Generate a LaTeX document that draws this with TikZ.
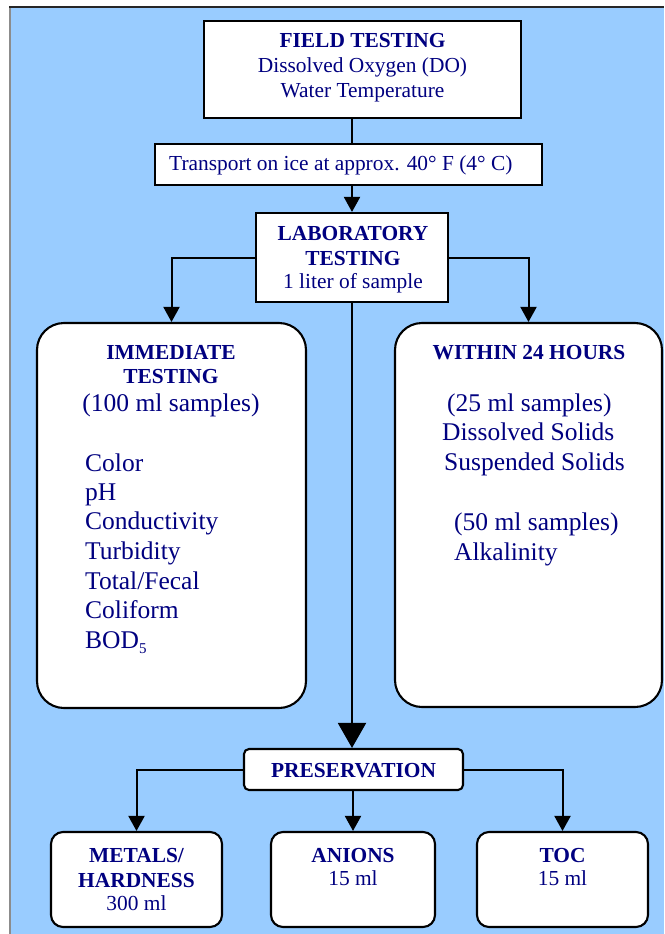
\documentclass[tikz,border=0pt]{standalone}
\usepackage{fontspec}
\setmainfont{Liberation Serif}
\usetikzlibrary{arrows.meta}
\definecolor{bgblue}{HTML}{99CCFF}
\definecolor{txtnavy}{HTML}{000080}
\begin{document}
\begin{tikzpicture}[x=1pt,y=-1pt,
  box/.style={draw=black, line width=2.1pt, fill=white, inner sep=0pt},
  conn/.style={line width=2pt, draw=black},
  arr/.style={conn, -{Triangle[length=15pt,width=16pt]}},
  bigarr/.style={conn, -{Triangle[length=25pt,width=28pt]}},
  txt/.style={text=txtnavy, font=\fontsize{21.4}{24}\selectfont, inner sep=0pt, anchor=base},
  btxt/.style={txt, font=\fontsize{21.4}{24}\selectfont\bfseries},
  ltxt/.style={txt, font=\fontsize{25.5}{30}\selectfont},
]
\useasboundingbox (0,0) rectangle (664,934);
% background panel
\fill[bgblue] (10,7) rectangle (664,934);
\draw[line width=1.5pt, black!45] (10,934) -- (10,7);
\draw[line width=1.5pt, black!85] (9.25,7) -- (664,7);

\coordinate (spine) at (352,0);

% boxes
\node[box, minimum width=317pt, minimum height=97pt] (field) at (362.5,69.5) {};
\node[box, minimum width=387pt, minimum height=41pt] (trans) at (348.5,164.5) {};
\node[box, minimum width=192pt, minimum height=89pt] (lab) at (352,257.5) {};
\node[box, rounded corners=27pt, minimum width=269pt, minimum height=385pt] (left) at (171.5,515.5) {};
\node[box, rounded corners=27pt, minimum width=267pt, minimum height=384pt] (right) at (528.5,515) {};
\node[box, rounded corners=5pt, minimum width=219pt, minimum height=41pt] (pres) at (353.5,769.5) {};
\node[box, rounded corners=12pt, minimum width=171pt, minimum height=95pt] (metals) at (136.5,879.5) {};
\node[box, rounded corners=12pt, minimum width=164pt, minimum height=95pt] (anions) at (353,879.5) {};
\node[box, rounded corners=12pt, minimum width=171pt, minimum height=95pt] (toc) at (562.5,879.5) {};

% connectors
\draw[conn] (spine |- field.south) -- (spine |- trans.north);
\draw[arr] (spine |- trans.south) -- (spine |- lab.north);
\draw[arr] (lab.west) -| (left.north);
\draw[arr] (lab.east) -| (right.north);
\draw[bigarr] (spine |- lab.south) -- (spine |- pres.north);
\draw[arr] (pres.west) -| (metals.north);
\draw[arr] (anions.north |- pres.south) -- (anions.north);
\draw[arr] (pres.east) -| (toc.north);

% field testing
\node[btxt] (f1) at (362.5,48) {FIELD TESTING};
\node[txt] (f2) at (362.5,72) {Dissolved Oxygen (DO)};
\node[txt] (f3) at (362.5,97) {Water Temperature};
% transport
\node[txt, anchor=base west] (t1) at (169,170) {Transport on ice at approx. 40° F (4° C)};
% laboratory
\node[btxt] (l1) at (353,240) {LABORATORY};
\node[btxt] (l2) at (353,265) {TESTING};
\node[txt] (l3) at (353,288) {1 liter of sample};
% immediate testing
\node[btxt] (i1) at (171,359) {IMMEDIATE};
\node[btxt] (i2) at (171,383) {TESTING};
\node[ltxt] (i3) at (171,411) {(100 ml samples)};
\node[ltxt, anchor=base west] (i4) at (85,471) {Color};
\node[ltxt, anchor=base west] (i5) at (85,500) {pH};
\node[ltxt, anchor=base west] (i6) at (85,529) {Conductivity};
\node[ltxt, anchor=base west] (i7) at (85,559) {Turbidity};
\node[ltxt, anchor=base west] (i8) at (85,589) {Total/Fecal};
\node[ltxt, anchor=base west] (i9) at (85,618) {Coliform};
\node[ltxt, anchor=base west] (i10) at (85,648) {BOD\raisebox{-0.22em}{\fontsize{15}{15}\selectfont 5}};
% within 24 hours
\node[btxt] (w1) at (529,359) {WITHIN 24 HOURS};
\node[ltxt, anchor=base west] (w2) at (447,411) {(25 ml samples)};
\node[ltxt, anchor=base west] (w3) at (442,440) {Dissolved Solids};
\node[ltxt, anchor=base west] (w4) at (444,470) {Suspended Solids};
\node[ltxt, anchor=base west] (w5) at (454,530) {(50 ml samples)};
\node[ltxt, anchor=base west] (w6) at (454,560) {Alkalinity};
% preservation
\node[btxt] (p1) at (353.5,777) {PRESERVATION};
% bottom boxes
\node[btxt] (m1) at (136.5,862) {METALS/};
\node[btxt] (m2) at (136.5,887) {HARDNESS};
\node[txt] (m3) at (136.5,910) {300 ml};
\node[btxt] (a1) at (353,862) {ANIONS};
\node[txt] (a2) at (353,885) {15 ml};
\node[btxt] (c1) at (562.5,862) {TOC};
\node[txt] (c2) at (562.5,885) {15 ml};
\end{tikzpicture}
\end{document}
